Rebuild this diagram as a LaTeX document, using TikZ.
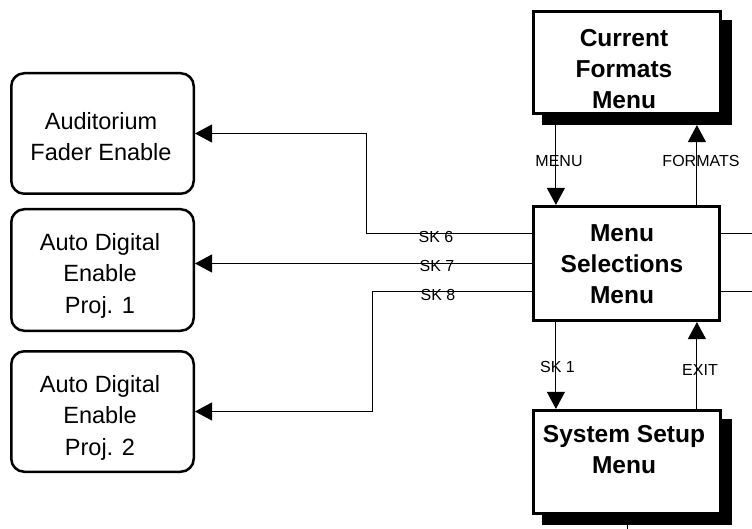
\documentclass[tikz,border=0pt]{standalone}
\usepackage{fontspec}
\setmainfont{Liberation Sans}
\usetikzlibrary{arrows.meta,calc,shadows,backgrounds}
\begin{document}
\begin{tikzpicture}[x=1pt,y=-1pt,
  conn/.style={line width=1pt,draw=black},
  arr/.style={conn,-{Triangle[width=18pt,length=17pt]}},
  menubox/.style={draw=black,fill=white,line width=3.2pt,rectangle,inner sep=0pt},
  shadowed/.style={drop shadow={shadow xshift=10pt,shadow yshift=-10pt,fill=black,draw=black,line width=3.2pt,opacity=1}},
  optbox/.style={draw=black,fill=white,line width=2.5pt,rectangle,rounded corners=13pt,inner sep=0pt},
  boldtxt/.style={align=center,inner sep=0pt,anchor=north,font=\fontsize{24.5}{31}\selectfont\bfseries},
  regtxt/.style={align=center,inner sep=0pt,anchor=north,font=\fontsize{23.5}{31.5}\selectfont},
  lbl/.style={inner sep=0pt,anchor=base,font=\fontsize{16}{18}\selectfont}]
\useasboundingbox (0,0) rectangle (752,529);

% boxes
\node[menubox,shadowed,minimum width=187pt,minimum height=102pt] (cfm) at (627,62.5) {};
\node[menubox,minimum width=186pt,minimum height=114pt] (ms) at (626.5,263.5) {};
\node[menubox,shadowed,minimum width=187pt,minimum height=103pt] (ssm) at (627,462) {};
\node[optbox,minimum width=182.5pt,minimum height=120.5pt] (aud) at (102.5,133.5) {};
\node[optbox,minimum width=182.5pt,minimum height=121.5pt] (ad1) at (102.5,270) {};
\node[optbox,minimum width=182.5pt,minimum height=120.5pt] (ad2) at (102.5,411.5) {};

% connectors
\draw[arr] ($(cfm.south west)+(24,10)$) -- ($(ms.north west)+(24,0)$);
\draw[arr] ($(ms.north west)+(165,0)$) -- ($(cfm.south west)+(165,10)$);
\draw[arr] ($(ms.north west)+(0,29)$) -- ++(-165,0) |- (aud.east);
\draw[arr] (ms.west) -- (ms.west -| ad1.east);
\draw[arr] ($(ms.north west)+(0,87)$) -- ++(-159,0) |- (ad2.east);
\draw[conn] ($(ms.north east)+(0,29)$) -- ++(40,0);
\draw[conn] ($(ms.north east)+(0,87)$) -- ++(40,0);
\draw[arr] ($(ms.south west)+(24,0)$) -- ($(ssm.north west)+(24,0)$);
\draw[arr] ($(ssm.north west)+(165,0)$) -- ($(ms.south west)+(165,0)$);
\begin{scope}[on background layer]
\draw[conn] (ssm.south) -- ++(0,20);
\end{scope}

% texts
\node[boldtxt] (cfmt) at (624,29) {Current\\Formats\\Menu};
\node[boldtxt] (mst) at (622,224) {Menu\\Selections\\Menu};
\node[boldtxt] (ssmt) at (624,425) {System Setup\\Menu};
\node[regtxt] (audt) at (101,112) {Auditorium\\Fader Enable};
\node[regtxt] (ad1t) at (100,233) {Auto Digital\\Enable\\Proj. 1};
\node[regtxt] (ad2t) at (100,375) {Auto Digital\\Enable\\Proj. 2};

% labels
\node[lbl] (lmenu) at (559,167) {MENU};
\node[lbl] (lfmt) at (701,167) {FORMATS};
\node[lbl] (lsk1) at (557.5,372) {SK 1};
\node[lbl] (lexit) at (700,375) {EXIT};
\node[lbl] (lsk6) at (436,243) {SK 6};
\node[lbl] (lsk7) at (437,272) {SK 7};
\node[lbl] (lsk8) at (438,300) {SK 8};
\end{tikzpicture}
\end{document}
